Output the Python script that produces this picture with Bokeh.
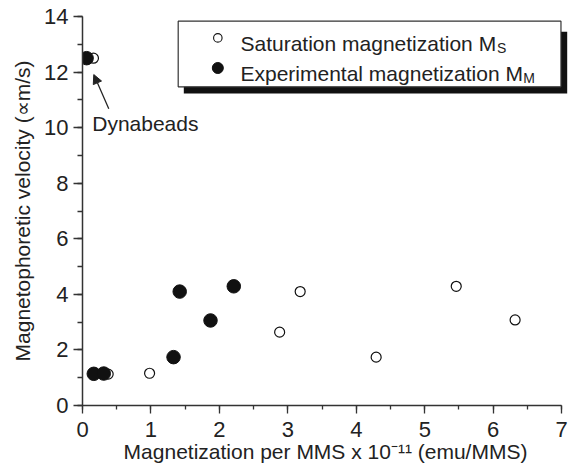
from bokeh.plotting import figure
from bokeh.models import (Range1d, SingleIntervalTicker, Label, Arrow, NormalHead,
                          BoxAnnotation, ColumnDataSource)
from bokeh.embed import file_html
from bokeh.resources import INLINE

# ---- data ----
sat_x = [0.16, 0.375, 0.98, 2.88, 3.18, 4.29, 5.46, 6.32]
sat_y = [12.5, 1.13, 1.16, 2.64, 4.10, 1.74, 4.29, 3.08]
exp_x = [0.06, 0.165, 0.31, 1.33, 1.42, 1.87, 2.21]
exp_y = [12.5, 1.14, 1.15, 1.74, 4.10, 3.06, 4.29]
x_ticks_interval = 1
y_ticks_interval = 2

FONT = "Liberation Sans"
TXT = "#222222"
INK = "#111111"

p = figure(width=574, height=474, output_backend="svg", toolbar_location=None,
           x_range=Range1d(0, 7.1), y_range=Range1d(0, 14),
           min_border_left=82, min_border_right=6, min_border_top=16, min_border_bottom=69)
p.outline_line_color = None
p.grid.visible = False
p.background_fill_color = "white"
p.border_fill_color = "white"

# axes
p.xaxis.bounds = (0, 7)
p.yaxis.bounds = (0, 14)
p.xaxis.ticker = SingleIntervalTicker(interval=x_ticks_interval, num_minor_ticks=2)
p.yaxis.ticker = SingleIntervalTicker(interval=y_ticks_interval, num_minor_ticks=2)
for ax in (p.xaxis, p.yaxis):
    ax.axis_line_color = "#333333"
    ax.axis_line_width = 1.5
    ax.major_tick_line_color = "#333333"
    ax.minor_tick_line_color = "#333333"
    ax.major_tick_line_width = 1.3
    ax.minor_tick_line_width = 1.3
    ax.major_tick_in = 0
    ax.minor_tick_in = 0
    ax.major_label_text_font = FONT
    ax.major_label_text_font_size = "22px"
    ax.major_label_text_color = TXT
    ax.axis_label_text_font = FONT
    ax.axis_label_text_font_size = "21px"
    ax.axis_label_text_font_style = "normal"
    ax.axis_label_text_color = TXT
p.xaxis.major_tick_out = 8
p.xaxis.minor_tick_out = 4
p.yaxis.major_tick_out = 9
p.yaxis.minor_tick_out = 5
p.xaxis.major_label_standoff = 8
p.yaxis.major_label_standoff = 5
p.yaxis.axis_label = "Magnetophoretic velocity (\u221dm/s)"
p.yaxis.axis_label_standoff = 7
p.xaxis.axis_label = "Magnetization per MMS x 10\u207b\u00b9\u00b9 (emu/MMS)"
p.xaxis.axis_label_standoff = 0

lbl_kw = dict(text_font=FONT, text_color=TXT, text_baseline="alphabetic", text_align="left")

# data
src_s = ColumnDataSource(dict(x=sat_x, y=sat_y))
src_e = ColumnDataSource(dict(x=exp_x, y=exp_y))
p.scatter("x", "y", source=src_s, size=10, marker="circle", fill_color="white",
          line_color=INK, line_width=1.2)
p.scatter("x", "y", source=src_e, size=13.5, marker="circle", fill_color=INK,
          line_color=INK, line_width=1)

# Dynabeads annotation
p.add_layout(Label(x=0.142, y=10.14, text="Dynabeads", text_font_size="21px", **lbl_kw))
p.add_layout(Arrow(end=NormalHead(size=9, fill_color=TXT, line_color=TXT),
                   x_start=0.384, y_start=10.68, x_end=0.165, y_end=11.91,
                   line_color=TXT, line_width=1.3))

# legend (shadowed box)
p.add_layout(BoxAnnotation(left=1.48, right=7.081, top=13.45, bottom=11.23,
                           fill_color=INK, fill_alpha=1, line_color=None))
p.add_layout(BoxAnnotation(left=1.398, right=6.99, top=13.83, bottom=11.47,
                           fill_color="white", fill_alpha=1, line_color="#333333",
                           line_width=1.2, line_alpha=1))
p.scatter(x=[1.977], y=[13.23], size=8.5, marker="circle", fill_color="white",
          line_color=INK, line_width=1.1, level="overlay")
p.scatter(x=[1.977], y=[12.147], size=11, marker="circle", fill_color=INK,
          line_color=INK, level="overlay")
p.add_layout(Label(x=2.308, y=13.03, text="Saturation magnetization M", text_font_size="21px", **lbl_kw))
p.add_layout(Label(x=6.055, y=12.85, text="S", text_font_size="14px", **lbl_kw))
p.add_layout(Label(x=2.308, y=11.95, text="Experimental magnetization M", text_font_size="21px", **lbl_kw))
p.add_layout(Label(x=6.44, y=11.77, text="M", text_font_size="14px", **lbl_kw))

open("out.html", "w").write(file_html(p, INLINE))
